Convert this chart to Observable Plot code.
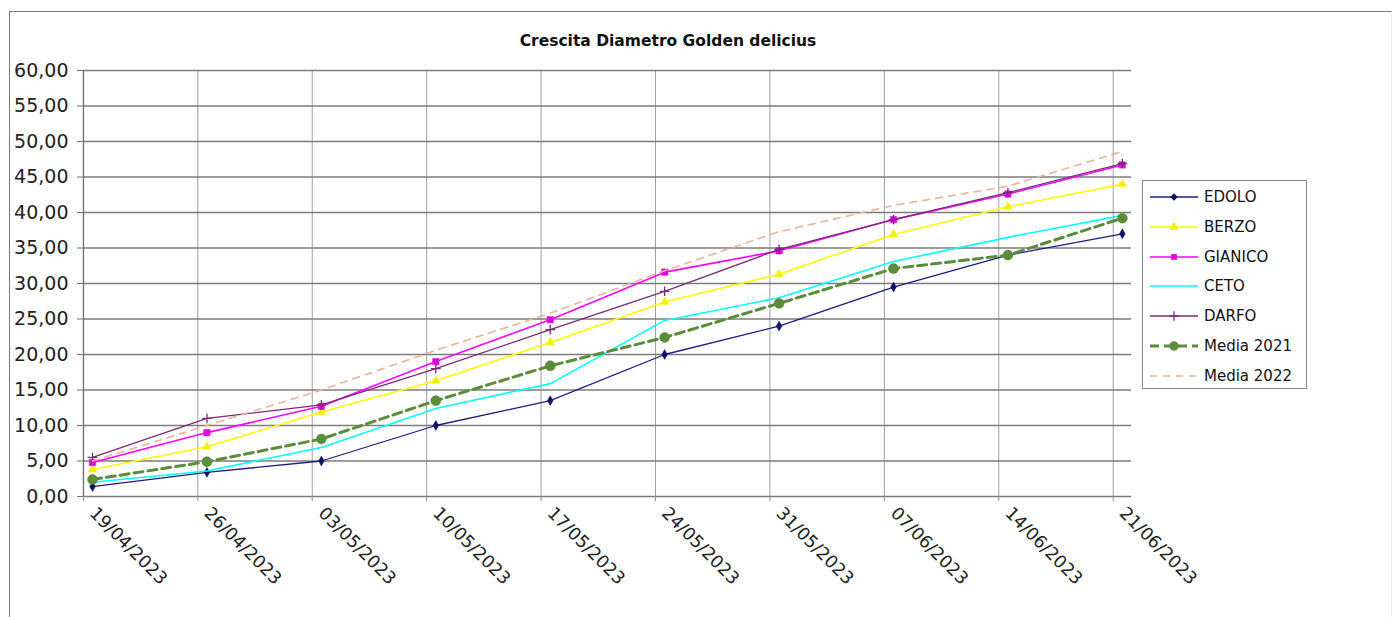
<!DOCTYPE html>
<html>
<head>
<meta charset="utf-8">
<script src="https://cdn.jsdelivr.net/npm/d3@7"></script>
<script src="https://cdn.jsdelivr.net/npm/@observablehq/plot@0.6"></script>
<style>
  html, body { margin: 0; padding: 0; background: #fff; }
  #wrap { position: relative; width: 1394px; height: 617px; overflow: hidden; font-family: "DejaVu Sans", sans-serif; }
  #border { position: absolute; left: 9px; top: 11px; width: 1381px; height: 620px; border-left: 1.5px solid #7a7a7a; border-top: 1.5px solid #7a7a7a; border-right: 1px solid #eee; }
  #title { position: absolute; left: 0; top: 32px; width: 1336px; text-align: center; font-weight: bold; font-size: 15.5px; color: #111; }
  #chart { position: absolute; left: 0; top: 0; }
  #legend { position: absolute; left: 1142px; top: 180px; width: 163px; height: 207px; border: 1px solid #8a8a8a; background: #fff; }
  .row { position: absolute; left: 6px; height: 20px; display: flex; align-items: center; font-size: 15px; color: #111; }
  .row svg { margin-right: 5px; }
</style>
</head>
<body>
<div id="wrap">
  <div id="border"></div>
  <div id="chart"></div>
  <div id="title">Crescita Diametro Golden delicius</div>
  <div id="legend"></div>
</div>
<script>
// ---- data ----
const dates = ["19/04/2023","26/04/2023","03/05/2023","10/05/2023","17/05/2023","24/05/2023","31/05/2023","07/06/2023","14/06/2023","21/06/2023"];
const seriesNames = ["EDOLO","BERZO","GIANICO","CETO","DARFO","Media 2021","Media 2022"];
const edolo     = [1.4, 3.4, 5.0, 10.0, 13.5, 20.0, 24.0, 29.5, 34.0, 37.0];
const berzo     = [3.8, 7.0, 11.9, 16.3, 21.7, 27.4, 31.3, 36.9, 40.8, 44.0];
const gianico   = [4.8, 9.0, 12.7, 19.0, 24.9, 31.6, 34.6, 39.0, 42.6, 46.7];
const ceto      = [2.0, 3.6, 6.9, 12.4, 15.9, 24.8, 28.0, 33.1, 36.5, 39.6];
const darfo     = [5.5, 11.0, 12.9, 18.0, 23.5, 28.9, 34.8, 39.0, 42.8, 46.9];
const media2021 = [2.4, 4.9, 8.1, 13.5, 18.4, 22.4, 27.2, 32.1, 34.0, 39.2];
const media2022 = [5.0, 10.0, 15.0, 20.6, 25.8, 31.8, 37.3, 41.0, 43.7, 48.6];
const yTicks = [0,5,10,15,20,25,30,35,40,45,50,55,60];

// ---- styles ----
const seriesValues = [edolo, berzo, gianico, ceto, darfo, media2021, media2022];
const styles = [
  {stroke: "#1b1b82", width: 1.3, dash: null, symbol: "diamond", r: 3, fill: "#10106a"},
  {stroke: "#ffff00", width: 1.6, dash: null, symbol: "triangle", r: 3.2, fill: "#f2f200"},
  {stroke: "#ff00ff", width: 1.6, dash: null, symbol: "square", r: 3.6, fill: "#e000e0"},
  {stroke: "#00ffff", width: 1.6, dash: null, symbol: null},
  {stroke: "#7b2a7b", width: 1.3, dash: null, symbol: "plus", r: 3.2, fill: null},
  {stroke: "#5b8c3a", width: 3, dash: "9,5", symbol: "circle", r: 5, fill: "#5b8c3a"},
  {stroke: "#e8b49b", width: 1.6, dash: "7,6", symbol: null}
];
const gridOffset = 0.08;
const xDomain = [-0.079, 9.08];

const idx = dates.map((d, i) => i);
const marks = [
  Plot.ruleX(idx, {x: i => i - gridOffset, y1: 0, y2: 60, stroke: "#a0a0a0", strokeWidth: 1}),
  Plot.ruleY(yTicks, {stroke: "#7c7c7c", strokeWidth: 1.4}),
  Plot.ruleX([xDomain[0]], {y1: 0, y2: 60, stroke: "#707070", strokeWidth: 1.3}),
  Plot.axisY({ticks: yTicks, label: null, tickSize: 6, tickPadding: 9, tickFormat: d => d.toFixed(2).replace(".", ","), fontSize: 19, fill: "#222", stroke: "#707070"}),
  Plot.axisX({ticks: idx.map(i => i - gridOffset), label: null, tickSize: 5, tickFormat: () => "", stroke: "#909090"}),
  Plot.text(dates, {x: (d, i) => i, y: () => 0, text: d => d, rotate: 45, textAnchor: "start", lineAnchor: "top", dx: 5, dy: 9, fontSize: 17.5, fill: "#222"})
];
seriesValues.forEach((vals, s) => {
  const st = styles[s];
  const rows = vals.map((v, i) => ({i, v}));
  marks.push(Plot.line(rows, {x: "i", y: "v", stroke: st.stroke, strokeWidth: st.width, strokeDasharray: st.dash}));
  if (st.symbol) {
    if (st.fill) marks.push(Plot.dot(rows, {x: "i", y: "v", symbol: st.symbol, r: st.r, fill: st.fill, stroke: st.fill, strokeWidth: 0.5}));
    else marks.push(Plot.dot(rows, {x: "i", y: "v", symbol: st.symbol, r: st.r, stroke: st.stroke, strokeWidth: 1.3}));
  }
});

const chart = Plot.plot({
  width: 1394,
  height: 617,
  marginLeft: 83,
  marginRight: 263,
  marginTop: 70,
  marginBottom: 121,
  style: {fontFamily: "DejaVu Sans, sans-serif", background: "transparent", overflow: "visible"},
  x: {type: "linear", domain: xDomain, axis: null},
  y: {domain: [0, 60], axis: null},
  marks
});
document.getElementById("chart").appendChild(chart);

// ---- legend ----
const legend = document.getElementById("legend");
const symPath = {
  diamond: d3.symbol(d3.symbolDiamond2, 36)(),
  triangle: d3.symbol(d3.symbolTriangle, 36)(),
  square: d3.symbol(d3.symbolSquare2, 42)(),
  plus: d3.symbol(d3.symbolPlus, 30)(),
  circle: d3.symbol(d3.symbolCircle, 70)()
};
seriesNames.forEach((name, s) => {
  const st = styles[s];
  const row = document.createElement("div");
  row.className = "row";
  row.style.top = (6 + s * 29.8) + "px";
  let marker = "";
  if (st.symbol) {
    marker = st.fill
      ? `<path transform="translate(25,10)" d="${symPath[st.symbol]}" fill="${st.fill}"/>`
      : `<path transform="translate(25,10)" d="${symPath[st.symbol]}" fill="none" stroke="${st.stroke}" stroke-width="1.3"/>`;
  }
  row.innerHTML = `<svg width="50" height="20"><line x1="1" x2="49" y1="10" y2="10" stroke="${st.stroke}" stroke-width="${st.width}" ${st.dash ? `stroke-dasharray="${st.dash}"` : ""}/>${marker}</svg><span>${name}</span>`;
  legend.appendChild(row);
});
</script>
</body>
</html>
